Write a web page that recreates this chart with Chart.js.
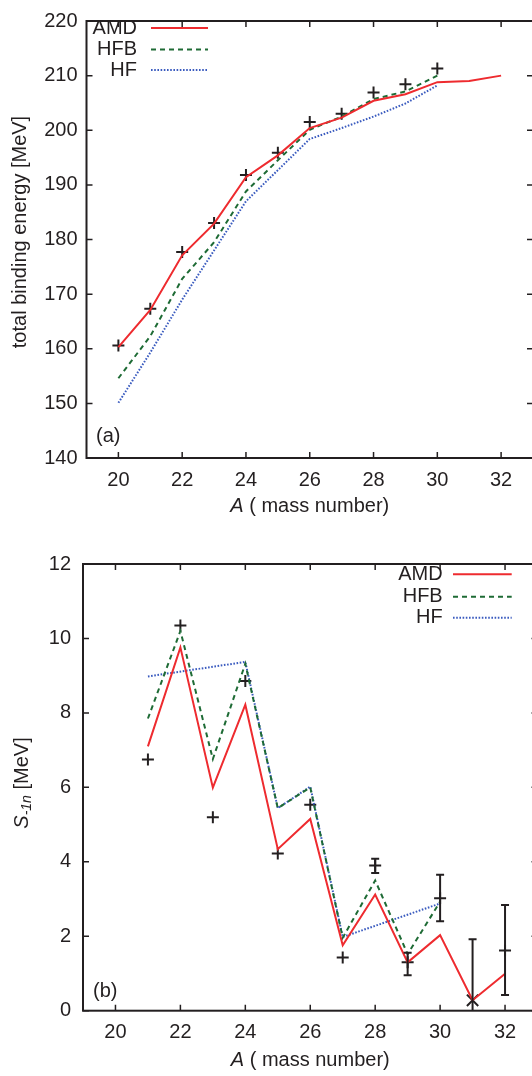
<!DOCTYPE html>
<html>
<head>
<meta charset="utf-8">
<script src="https://cdn.jsdelivr.net/npm/chart.js@4"></script>
<style>
  html, body { margin: 0; padding: 0; background: #fff; width: 532px; height: 1076px; overflow: hidden; }
  canvas { position: absolute; left: 0; }
  #top { top: 0; }
  #bot { top: 540px; }
</style>
</head>
<body>
<canvas id="top" width="560" height="530"></canvas>
<canvas id="bot" width="560" height="536"></canvas>
<script>
// (a) total binding energy
var massBE = [20, 21, 22, 23, 24, 25, 26, 27, 28, 29, 30, 31, 32];
var amdBE = [160.3, 167.1, 177.1, 182.9, 191.4, 195.4, 200.4, 202.3, 205.4, 206.6, 208.8, 209.0, 210.0];
var hfbBE = [154.6, 162.3, 172.8, 179.5, 188.8, 194.5, 200.1, 202.5, 205.7, 207.1, 210.0];
var hfBE = [150.1, 159.3, 169.0, 178.0, 187.0, 192.7, 198.4, 200.4, 202.5, 204.9, 208.2];
var expBE = [160.6, 167.3, 177.7, 183.0, 191.8, 195.9, 201.5, 203.0, 206.9, 208.4, 211.3];

// (b) one-neutron separation energy
var massS = [21, 22, 23, 24, 25, 26, 27, 28, 29, 30, 31, 32];
var amdS = [7.1, 9.76, 5.99, 8.22, 4.34, 5.15, 1.76, 3.12, 1.30, 2.03, 0.28, 0.99];
var hfbS = [7.85, 10.2, 6.76, 9.32, 5.44, 6.0, 1.96, 3.5, 1.52, 2.93];
var hfS = [8.98, null, null, 9.37, 5.44, 6.02, 1.98, null, null, 2.88];
var expS = [6.75, 10.35, 5.2, 8.86, 4.22, 5.53, 1.43, 3.9, 1.30, 3.02, 0.28, 1.62];
var expSLo = [null, null, null, null, null, null, null, 3.70, 0.95, 2.40, -1.4, 0.42];
var expSHi = [null, null, null, null, null, null, null, 4.08, 1.56, 3.65, 1.92, 2.84];
var expSStyle = ['cross', 'cross', 'cross', 'cross', 'cross', 'cross', 'cross', 'cross', 'cross', 'cross', 'crossRot', 'cross'];
var expSSize = [6, 6, 6, 6, 6, 6, 6, 6, 6, 6, 8, 6];

var massTicks = [20, 22, 24, 26, 28, 30, 32];
var beTicks = [140, 150, 160, 170, 180, 190, 200, 210, 220];
var sTicks = [0, 2, 4, 6, 8, 10, 12];

var FONT = '"Liberation Sans", Arial, Helvetica, sans-serif';
var INK = '#231f20';
var RED = '#ee2b2f', GREEN = '#1e6b35', BLUE = '#3a5bbf';

function pts(xs, ys) {
  return ys.map(function (y, i) { return { x: xs[i], y: y }; });
}

function lineSet(label, xs, ys, color, dash) {
  return {
    label: label, data: pts(xs, ys), borderColor: color, borderWidth: 2,
    borderDash: dash, pointRadius: 0, tension: 0, fill: false, spanGaps: true
  };
}

// frame, inward ticks, error bars, legend and texts
var decor = {
  id: 'decor',
  afterDatasetsDraw: function (chart, args, o) {
    var ctx = chart.ctx, a = chart.chartArea;
    var xs = chart.scales.x, ys = chart.scales.y;
    ctx.save();
    ctx.strokeStyle = INK;
    // error bars
    if (o.err) {
      ctx.save();
      ctx.beginPath();
      ctx.rect(a.left, a.top, a.right - a.left, a.bottom - a.top);
      ctx.clip();
      ctx.lineWidth = 2;
      o.err.x.forEach(function (m, i) {
        if (o.err.lo[i] == null) return;
        var px = xs.getPixelForValue(m);
        var y1 = ys.getPixelForValue(o.err.lo[i]);
        var y2 = ys.getPixelForValue(o.err.hi[i]);
        ctx.beginPath();
        ctx.moveTo(px, y1); ctx.lineTo(px, y2);
        ctx.moveTo(px - 4, y1); ctx.lineTo(px + 4, y1);
        ctx.moveTo(px - 4, y2); ctx.lineTo(px + 4, y2);
        ctx.stroke();
      });
      ctx.restore();
    }
    // frame
    ctx.lineWidth = 2;
    ctx.strokeRect(a.left, a.top, a.right - a.left, a.bottom - a.top);
    ctx.lineWidth = 1.5;
    ctx.beginPath();
    xs.ticks.forEach(function (t) {
      var px = xs.getPixelForValue(t.value);
      ctx.moveTo(px, a.bottom); ctx.lineTo(px, a.bottom - 6);
      ctx.moveTo(px, a.top); ctx.lineTo(px, a.top + 6);
    });
    ys.ticks.forEach(function (t) {
      var py = ys.getPixelForValue(t.value);
      ctx.moveTo(a.left, py); ctx.lineTo(a.left + 6, py);
      ctx.moveTo(a.right, py); ctx.lineTo(a.right - 6, py);
    });
    ctx.stroke();

    ctx.fillStyle = INK;
    ctx.textBaseline = 'middle';
    // legend
    chart.data.datasets.slice(0, 3).forEach(function (d, i) {
      var y = o.legend.y[i];
      ctx.font = '20px ' + FONT;
      ctx.textAlign = 'right';
      ctx.fillText(d.label, o.legend.textX, y);
      ctx.save();
      ctx.strokeStyle = d.borderColor;
      ctx.lineWidth = d.borderWidth;
      ctx.setLineDash(d.borderDash || []);
      ctx.beginPath();
      ctx.moveTo(o.legend.x1, y); ctx.lineTo(o.legend.x2, y);
      ctx.stroke();
      ctx.restore();
    });
    // panel tag
    ctx.textAlign = 'left';
    ctx.font = '20px ' + FONT;
    ctx.fillText(o.tag.text, o.tag.x, o.tag.y);
    // x title: italic A
    var cx = (a.left + a.right) / 2;
    ctx.font = 'italic 20px ' + FONT;
    var wA = ctx.measureText('A').width;
    ctx.font = '20px ' + FONT;
    var wR = ctx.measureText(' ( mass number)').width;
    var x0 = cx - (wA + wR) / 2;
    ctx.font = 'italic 20px ' + FONT;
    ctx.fillText('A', x0, o.xTitleY);
    ctx.font = '20px ' + FONT;
    ctx.fillText(' ( mass number)', x0 + wA, o.xTitleY);
    // y title
    ctx.save();
    ctx.translate(o.yTitle.x, o.yTitle.y);
    ctx.rotate(-Math.PI / 2);
    ctx.textBaseline = 'middle';
    if (o.yTitle.sub) {
      ctx.font = 'italic 20px ' + FONT;
      var w1 = ctx.measureText(o.yTitle.main).width;
      ctx.font = 'italic 14px ' + FONT;
      var w2 = ctx.measureText(o.yTitle.sub).width;
      ctx.font = '20px ' + FONT;
      var w3 = ctx.measureText(o.yTitle.rest).width;
      var s = -(w1 + w2 + w3) / 2;
      ctx.textAlign = 'left';
      ctx.font = 'italic 20px ' + FONT;
      ctx.fillText(o.yTitle.main, s, 0);
      ctx.font = 'italic 14px ' + FONT;
      ctx.fillText(o.yTitle.sub, s + w1, 5);
      ctx.font = '20px ' + FONT;
      ctx.fillText(o.yTitle.rest, s + w1 + w2, 0);
    } else {
      ctx.textAlign = 'center';
      ctx.font = '20px ' + FONT;
      ctx.fillText(o.yTitle.main, 0, 0);
    }
    ctx.restore();
    ctx.restore();
  }
};

function axes(yMin, yMax, yTicks, yWidth, xHeight, yPad) {
  return {
    x: {
      type: 'linear', min: 19, max: 33,
      afterBuildTicks: function (s) { s.ticks = massTicks.map(function (v) { return { value: v }; }); },
      afterFit: function (s) { s.height = xHeight; },
      grid: { display: false, drawTicks: false },
      border: { display: false },
      ticks: { color: INK, font: { family: FONT, size: 20 }, padding: 10, maxRotation: 0 }
    },
    y: {
      type: 'linear', min: yMin, max: yMax,
      afterBuildTicks: function (s) { s.ticks = yTicks.map(function (v) { return { value: v }; }); },
      afterFit: function (s) { s.width = yWidth; },
      grid: { display: false, drawTicks: false },
      border: { display: false },
      ticks: { color: INK, font: { family: FONT, size: 20 }, padding: yPad }
    }
  };
}

new Chart(document.getElementById('top'), {
  type: 'line',
  data: {
    datasets: [
      lineSet('AMD', massBE, amdBE, RED, []),
      lineSet('HFB', massBE, hfbBE, GREEN, [5, 4]),
      lineSet('HF', massBE, hfBE, BLUE, [1.6, 1.6]),
      {
        label: 'exp', data: pts(massBE, expBE), showLine: false,
        pointStyle: 'cross', pointRadius: 6, borderColor: INK, borderWidth: 2
      }
    ]
  },
  options: {
    responsive: false, devicePixelRatio: 1, animation: false,
    layout: { padding: { top: 11, right: 27, left: 0, bottom: 0 } },
    scales: axes(140, 220, beTicks, 86.5, 72, 9),
    plugins: {
      legend: { display: false }, tooltip: { enabled: false },
      decor: {
        legend: { textX: 137, x1: 151, x2: 208, y: [28, 49.5, 70] },
        tag: { text: '(a)', x: 96, y: 436.7 },
        xTitleY: 506.7,
        yTitle: { x: 20, y: 232, main: 'total binding energy [MeV]' }
      }
    }
  },
  plugins: [decor]
});

new Chart(document.getElementById('bot'), {
  type: 'line',
  data: {
    datasets: [
      lineSet('AMD', massS, amdS, RED, []),
      lineSet('HFB', massS, hfbS, GREEN, [5, 4]),
      lineSet('HF', massS, hfS, BLUE, [1.6, 1.6]),
      {
        label: 'exp', data: pts(massS, expS), showLine: false,
        pointStyle: expSStyle, pointRadius: expSSize, borderColor: INK, borderWidth: 2
      }
    ]
  },
  options: {
    responsive: false, devicePixelRatio: 1, animation: false,
    layout: { padding: { top: 17.3, right: 22.5, left: 0, bottom: 0 } },
    scales: axes(0, 12, sTicks, 83, 65.3, 12),
    plugins: {
      legend: { display: false }, tooltip: { enabled: false },
      decor: {
        err: { x: massS, lo: expSLo, hi: expSHi },
        legend: { textX: 442.7, x1: 453, x2: 511.7, y: [34.3, 56.7, 77.7] },
        tag: { text: '(b)', x: 93, y: 451.7 },
        xTitleY: 520.7,
        yTitle: { x: 22, y: 243, main: 'S', sub: '-1n', rest: ' [MeV]' }
      }
    }
  },
  plugins: [decor]
});
</script>
</body>
</html>
